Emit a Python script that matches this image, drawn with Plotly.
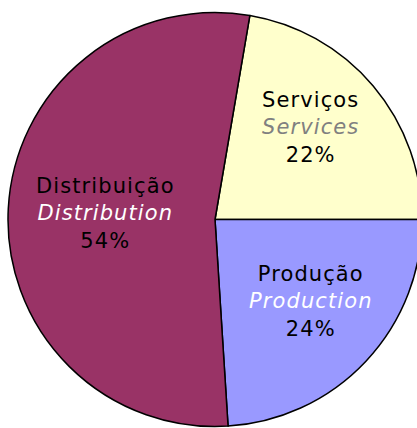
import plotly.graph_objects as go

# Data
labels_pt = ["Serviços", "Produção", "Distribuição"]
labels_en = ["Services", "Production", "Distribution"]
values = [22.3, 24.0, 53.7]
colors = ["#FFFFCC", "#9999FF", "#993366"]
en_colors = ["#808080", "#FFFFFF", "#FFFFFF"]

W, H = 423, 428
ML, MR, MT, MB = 8, 1, 12, 1
PW, PH = W - ML - MR, H - MT - MB

fig = go.Figure(go.Pie(
    labels=labels_pt,
    values=values,
    sort=False,
    direction="clockwise",
    rotation=9.7,
    marker=dict(colors=colors, line=dict(color="#000000", width=1.5)),
    textinfo="none",
    hoverinfo="label+percent",
    showlegend=False,
))

# label placement (pixel centres of each text block)
label_pos = [(310, 128), (311, 301), (105, 213)]
total = sum(values)
sp = "letter-spacing:1.1px"
for pt, en, v, c, (px, py) in zip(labels_pt, labels_en, values, en_colors, label_pos):
    pct = round(100 * v / total)
    fig.add_annotation(
        x=(px - ML) / PW, y=1 - (py - MT) / PH,
        xref="paper", yref="paper",
        xanchor="center", yanchor="middle",
        text=(f"<span style='{sp}'>{pt}</span><br>"
              f"<i><span style='color:{c};{sp}'>{en}</span></i><br>"
              f"<span style='{sp}'>{pct}%</span>"),
        showarrow=False, align="center",
        font=dict(family="DejaVu Sans", size=21, color="#000000"),
    )

fig.update_layout(
    width=W, height=H, autosize=False,
    margin=dict(l=ML, r=MR, t=MT, b=MB, pad=0),
    paper_bgcolor="#FFFFFF", plot_bgcolor="#FFFFFF",
)

fig.write_html(
    "out.html",
    config={"displayModeBar": False},
    post_script="document.body.style.margin='0';document.body.style.overflow='hidden';document.documentElement.style.overflow='hidden';",
)
